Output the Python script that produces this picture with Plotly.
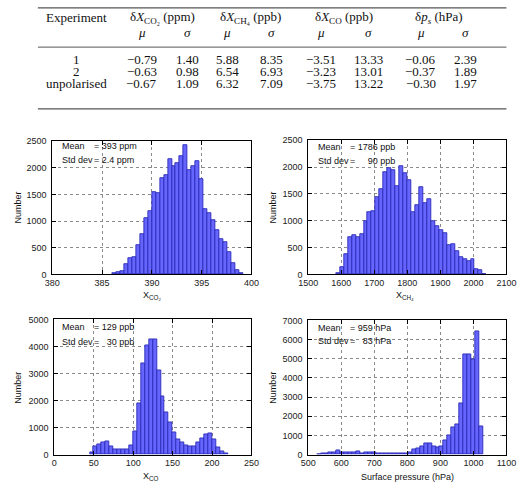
import plotly.graph_objects as go

W, H = 528, 487

# ---------------- table data ----------------
experiments = ["1", "2", "unpolarised"]
co2_mu = ["\u22120.79", "\u22120.63", "\u22120.67"]
co2_sigma = ["1.40", "0.98", "1.09"]
ch4_mu = ["5.88", "6.54", "6.32"]
ch4_sigma = ["8.35", "6.93", "7.09"]
co_mu = ["\u22123.51", "\u22123.23", "\u22123.75"]
co_sigma = ["13.33", "13.01", "13.22"]
ps_mu = ["\u22120.06", "\u22120.37", "\u22120.30"]
ps_sigma = ["2.39", "1.89", "1.97"]

# ---------------- histogram data ----------------
co2_bin_width = 0.4
co2_edges = [386.0, 386.4, 386.8, 387.2, 387.6, 388.0, 388.4, 388.8, 389.2, 389.6,
             390.0, 390.4, 390.8, 391.2, 391.6, 392.0, 392.4, 392.8, 393.2, 393.6,
             394.0, 394.4, 394.8, 395.2, 395.6, 396.0, 396.4, 396.8, 397.2, 397.6,
             398.0, 398.4, 398.8]
co2_counts = [15, 50, 55, 190, 300, 330, 550, 750, 1050, 1180,
              1550, 1530, 1810, 1870, 2170, 2040, 2080, 2220, 2420, 1950,
              2030, 2130, 1790, 1230, 1150, 1010, 830, 660, 600, 420,
              210, 75, 25]

ch4_bin_width = 12
ch4_edges = [1584, 1596, 1608, 1620, 1632, 1644, 1656, 1668, 1680, 1692,
             1704, 1716, 1728, 1740, 1752, 1764, 1776, 1788, 1800, 1812,
             1824, 1836, 1848, 1860, 1872, 1884, 1896, 1908, 1920, 1932,
             1944, 1956, 1968, 1980, 1992, 2004, 2016, 2028]
ch4_counts = [30, 130, 380, 700, 730, 690, 750, 1000, 1150, 1170,
              1440, 1580, 1900, 1970, 1950, 1650, 2020, 1880, 1760, 1160,
              1280, 1630, 1320, 1400, 990, 900, 820, 760, 550, 560,
              430, 316, 292, 255, 274, 100, 85, 12]

co_bin_width = 5
co_edges = [45, 50, 55, 60, 65, 70, 75, 80, 85, 90,
            95, 100, 105, 110, 115, 120, 125, 130, 135, 140,
            145, 150, 155, 160, 165, 170, 175, 180, 185, 190,
            195, 200, 205, 210, 215]
co_counts = [70, 300, 360, 460, 490, 300, 200, 200, 200, 200,
             340, 840, 1880, 3380, 4020, 4250, 4250, 3120, 2140, 1570,
             1200, 820, 560, 450, 340, 320, 310, 440, 600, 760,
             790, 560, 260, 100, 30]

ps_bin_width = 12
ps_edges = [526, 538, 550, 562, 574, 586, 598, 610, 622, 634,
            646, 658, 670, 682, 694, 706, 718, 730, 742, 754,
            766, 778, 790, 802, 814, 826, 838, 850, 862, 874,
            886, 898, 910, 922, 934, 946, 958, 970, 982, 994,
            1006, 1018]
ps_counts = [20, 40, 60, 120, 140, 200, 110, 110, 110, 90,
             170, 80, 130, 100, 90, 70, 80, 60, 50, 40,
             60, 70, 80, 130, 250, 305, 440, 560, 560, 420,
             390, 420, 730, 980, 1440, 1580, 2680, 5220, 5220, 4970,
             6440, 1490]

NB = "\u00a0"
stats = {
    "co2": ("= 393 ppm", "= 2.4 ppm"),
    "ch4": ("= 1786 ppb", "= " + NB * 4 + "90 ppb"),
    "co": ("= 129 ppb", "= " + NB * 2 + "30 ppb"),
    "ps": ("= 959 hPa", "= " + NB * 2 + "83 hPa"),
}

# ---------------- styles ----------------
FILL = "#6666ff"
EDGE = "#2a2ab8"
SANS = "Liberation Sans, Arial, sans-serif"
SERIF = "Liberation Serif, Times New Roman, serif"


def px(x):
    return x / W


def py(y):
    return 1 - y / H


fig = go.Figure()

hists = [
    (co2_edges, co2_counts, co2_bin_width, "x", "y"),
    (ch4_edges, ch4_counts, ch4_bin_width, "x2", "y2"),
    (co_edges, co_counts, co_bin_width, "x3", "y3"),
    (ps_edges, ps_counts, ps_bin_width, "x4", "y4"),
]
for edges, counts, bw, xa, ya in hists:
    fig.add_trace(go.Bar(
        x=[e + bw / 2 for e in edges], y=counts, width=bw,
        marker=dict(color=FILL, line=dict(color=EDGE, width=0.9)),
        xaxis=xa, yaxis=ya, showlegend=False, hoverinfo="x+y"))

axis_common = dict(
    showline=True, linecolor="black", linewidth=1, mirror="ticks",
    ticks="inside", ticklen=4, tickcolor="black", tickwidth=1,
    showgrid=True, gridcolor="#8a8a8a", griddash="dot", gridwidth=1,
    zeroline=False, tickfont=dict(family=SANS, size=9, color="#222"),
)

layout_axes = {}
panels = [
    ("xaxis", "yaxis", "y", "x", (44, 251), (139, 275), (380, 400), 5, (0, 2500), 500),
    ("xaxis2", "yaxis2", "y2", "x2", (310, 516), (138, 275), (1500, 2100), 100, (0, 2500), 500),
    ("xaxis3", "yaxis3", "y3", "x3", (46, 251), (321, 459), (0, 250), 50, (0, 5000), 1000),
    ("xaxis4", "yaxis4", "y4", "x4", (310, 516), (322, 459), (500, 1100), 100, (0, 7000), 1000),
]
for xk, yk, ya, xa, (x0, x1), (y0, y1), xr, xd, yr, yd in panels:
    layout_axes[xk] = dict(axis_common, domain=[px(x0), px(x1)], anchor=ya,
                           range=list(xr), dtick=xd, tick0=xr[0])
    layout_axes[yk] = dict(axis_common, domain=[py(y1), py(y0)], anchor=xa,
                           range=list(yr), dtick=yd, tick0=0, ticklabelstandoff=3)

annotations = []


def ann(text, x, y, size=9, family=SANS, xanchor="center", yanchor="middle", angle=0):
    annotations.append(dict(
        text=text, x=px(x), y=py(y), xref="paper", yref="paper",
        xanchor=xanchor, yanchor=yanchor, showarrow=False, textangle=angle,
        font=dict(family=family, size=size, color="#111")))


# ---- table ----
TS = 13
ann("Experiment", 69, 13, TS, SERIF)
ann("\u03b4<i>X</i><sub>CO\u2082</sub> (ppm)", 158, 13, TS, SERIF)
ann("\u03b4<i>X</i><sub>CH\u2084</sub> (ppb)", 250, 13, TS, SERIF)
ann("\u03b4<i>X</i><sub>CO</sub> (ppb)", 347, 13, TS, SERIF)
ann("\u03b4<i>p<sub>s</sub></i> (hPa)", 446, 13, TS, SERIF)
col_x = [137, 185, 226, 272, 323, 373, 427, 473]
for i, cx in enumerate(col_x):
    ann("<i>\u03bc</i>" if i % 2 == 0 else "<i>\u03c3</i>", cx, 28, TS, SERIF)
row_y = [56, 68, 80]
cols = [co2_mu, co2_sigma, ch4_mu, ch4_sigma, co_mu, co_sigma, ps_mu, ps_sigma]
for r, ry in enumerate(row_y):
    ann(experiments[r], 69, ry, TS, SERIF)
    for c, cx in enumerate(col_x):
        ann(cols[c][r], cx, ry, TS, SERIF)

shapes = []
for ly, lw in [(3, 1.2), (43, 1), (106, 1.2)]:
    shapes.append(dict(type="line", xref="paper", yref="paper",
                       x0=px(29), x1=px(516), y0=py(ly), y1=py(ly),
                       line=dict(color="#555", width=lw)))

# ---- histogram texts ----
ann("Number", 8, 207, angle=-90)
ann("Number", 273, 207, angle=-90)
ann("Number", 8, 391, angle=-90)
ann("Number", 273, 391, angle=-90)
ann("X<sub>CO\u2082</sub>", 148, 297)
ann("X<sub>CH\u2084</sub>", 411, 297)
ann("X<sub>CO</sub>", 147, 481)
ann("Surface pressure (hPa)", 413, 482)

# stats boxes: (label x, "=" x, mean y, std y)
stat_pos = {
    "co2": (52, 85, 144, 158),
    "ch4": (318, 351, 145, 159),
    "co": (52, 85, 329, 344),
    "ps": (318, 351, 330, 343),
}
for k, (lx, ex, my, sy) in stat_pos.items():
    mean_v, std_v = stats[k]
    ann("Mean", lx, my, xanchor="left")
    ann(mean_v, ex, my, xanchor="left")
    ann("Std dev", lx, sy, xanchor="left")
    ann(std_v, ex, sy, xanchor="left")

fig.update_layout(
    width=W, height=H, autosize=False,
    margin=dict(l=0, r=0, t=0, b=0),
    paper_bgcolor="white", plot_bgcolor="white",
    bargap=0, showlegend=False,
    annotations=annotations, shapes=shapes,
    **layout_axes,
)

fig.write_html("out.html")
